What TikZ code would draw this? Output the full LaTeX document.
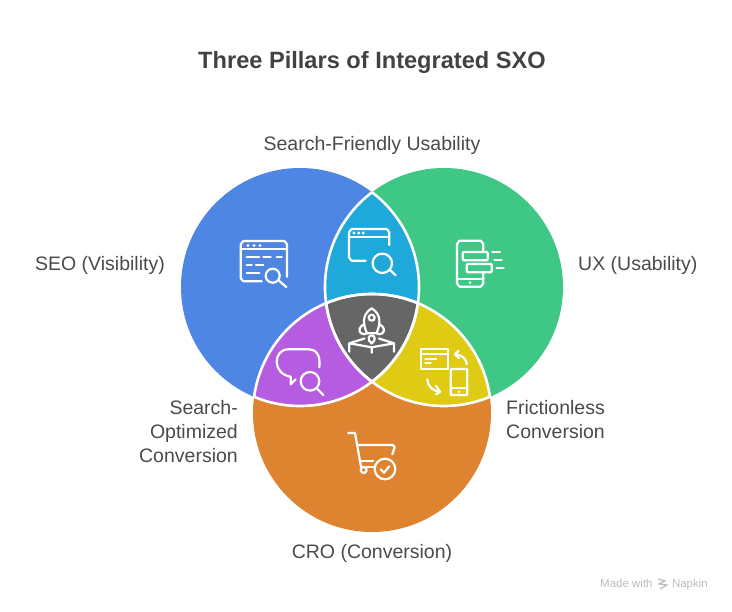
\documentclass[tikz,border=0pt]{standalone}
\usepackage{fontspec}
\setmainfont{Liberation Sans}
\definecolor{cblue}{HTML}{4E86E4}
\definecolor{cgreen}{HTML}{3EC785}
\definecolor{corange}{HTML}{DE8330}
\definecolor{ccyan}{HTML}{1FA8DA}
\definecolor{cpurple}{HTML}{B65CE0}
\definecolor{cyellow}{HTML}{DFCB14}
\definecolor{cgray}{HTML}{666666}
\definecolor{ctext}{HTML}{4A4A4A}
\definecolor{ctitle}{HTML}{424242}
\definecolor{cmark}{HTML}{BBBBBB}
\tikzset{
  label text/.style={text=ctext,font=\fontsize{19.5}{24}\selectfont,inner sep=0pt,align=center},
  icon/.style={draw=white,line width=2.2pt,line cap=round,line join=round},
  dot/.style={fill=white,draw=none},
  seam/.style={draw=white,line width=2.6pt},
}
\begin{document}
\begin{tikzpicture}[x=1pt,y=-1pt]
\useasboundingbox (0,0) rectangle (732,612);
\def\cblue{(300,287) circle[radius=119]}
\def\cgreen{(444,287) circle[radius=119]}
\def\corange{(372,413) circle[radius=119]}
% circles
\fill[cblue] \cblue;
\fill[cgreen] \cgreen;
\fill[corange] \corange;
% overlaps
\begin{scope}\clip \cblue; \fill[ccyan] \cgreen; \end{scope}
\begin{scope}\clip \cblue; \fill[cpurple] \corange; \end{scope}
\begin{scope}\clip \cgreen; \fill[cyellow] \corange; \end{scope}
\begin{scope}\clip \cblue; \clip \cgreen; \fill[cgray] \corange; \end{scope}
% seams only where circles overlap
\begin{scope}\clip \cgreen; \draw[seam] \cblue; \end{scope}
\begin{scope}\clip \corange; \draw[seam] \cblue; \end{scope}
\begin{scope}\clip \cblue; \draw[seam] \cgreen; \end{scope}
\begin{scope}\clip \corange; \draw[seam] \cgreen; \end{scope}
\begin{scope}\clip \cblue; \draw[seam] \corange; \end{scope}
\begin{scope}\clip \cgreen; \draw[seam] \corange; \end{scope}

% SEO icon
\draw[icon] (261.7,281.3) -- (243.7,281.3) to[out=180,in=90] (240.7,278.3) -- (240.7,244) to[out=-90,in=180] (243.7,241) -- (284,241) to[out=0,in=-90] (287,244) -- (287,276.7);
\draw[icon] (240.7,249.3) -- (287,249.3);
\foreach \x in {248,254,260} \fill[dot] (\x,245.5) circle[radius=1.6];
\draw[icon] (246.7,256.7) -- (259.3,256.7) (263.3,256.7) -- (270.7,256.7) (276.7,256.7) -- (281.7,256.7)
  (246.7,264.7) -- (251.7,264.7) (256,264.7) -- (263.3,264.7) (246.7,272.7) -- (259.3,272.7);
\draw[icon] (272.7,275.7) circle[radius=7];
\draw[icon] (279.3,281) -- (286.3,287);

% Search-friendly icon
\draw[icon] (365.7,260.7) -- (352,260.7) to[out=180,in=90] (349,257.7) -- (349,232) to[out=-90,in=180] (352,229) -- (386.3,229) to[out=0,in=-90] (389.3,232) -- (389.3,245);
\draw[icon] (349,237.3) -- (389.3,237.3);
\foreach \x in {354,358.7,363.3} \fill[dot] (\x,233) circle[radius=1.6];
\draw[icon] (382.3,263.3) circle[radius=9.7];
\draw[icon] (390,270) -- (395.7,275.3);

% UX icon
\draw[icon] (483.3,252) -- (483.3,243.7) to[out=-90,in=0] (480.3,240.7) -- (460,240.7) to[out=180,in=-90] (457,243.7) -- (457,283.7) to[out=90,in=180] (460,286.7) -- (480.3,286.7) to[out=0,in=90] (483.3,283.7) -- (483.3,272.3);
\draw[icon] (457,279.3) -- (483.3,279.3);
\fill[dot] (470,282.6) circle[radius=1.5];
\draw[icon,rounded corners=1pt] (462.7,252) rectangle (487.7,260.3);
\draw[icon,rounded corners=1pt] (466.7,264) rectangle (491.7,272.3);
\draw[icon] (492.3,252) -- (500,252) (494.3,260) -- (501.7,260) (496.7,268.3) -- (503.7,268.3);

% Rocket icon
\draw[icon] (371.7,308.3) .. controls (366.5,311.5) and (364,316) .. (364,321) .. controls (364,326) and (365.5,330) .. (367,333.3) -- (376.4,333.3) .. controls (377.9,330) and (379.4,326) .. (379.4,321) .. controls (379.4,316) and (376.9,311.5) .. (371.7,308.3) -- cycle;
\draw[icon] (371.7,317.7) circle[radius=3];
\draw[icon] (364.3,324) .. controls (359.5,326.5) and (358,330.5) .. (361,333.3) .. controls (363,334.5) and (365.5,334.5) .. (367,333.3);
\draw[icon] (379.1,324) .. controls (383.9,326.5) and (385.4,330.5) .. (382.4,333.3) .. controls (380.4,334.5) and (377.9,334.5) .. (376.4,333.3);
\draw[icon] (371.7,343.5) .. controls (369,342) and (368.3,339) .. (368.8,337.5) .. controls (369.3,336) and (370.5,335.5) .. (371.7,335.5) .. controls (372.9,335.5) and (374.1,336) .. (374.6,337.5) .. controls (375.1,339) and (374.4,342) .. (371.7,343.5) -- cycle;
\draw[icon] (349.3,351.7) -- (349.3,343.3) -- (364.5,338.5) (349.3,343.3) -- (371.7,347.3) -- (394,343.3) -- (378.9,338.5) (394,343.3) -- (394,351.7) (371.7,347.3) -- (371.7,352.7);

% Frictionless icon
\draw[icon] (420.7,348.7) rectangle (447.7,369.3);
\draw[icon] (420.7,354.3) -- (447.7,354.3);
\draw[icon] (425.3,358.7) -- (436,358.7) (425.3,362.7) -- (430.7,362.7);
\draw[icon,rounded corners=0.8pt] (450.7,369) rectangle (467.3,395);
\draw[icon] (450.7,388.3) -- (467.3,388.3);
\fill[dot] (459,391.7) circle[radius=1.4];
\draw[icon] (466.8,364.3) .. controls (466.5,359) and (462,354.6) .. (455,354.3);
\draw[icon] (458.5,350.7) -- (455,354.3) -- (458.9,358);
\draw[icon] (427.3,379.3) .. controls (427.5,386) and (433,391.5) .. (440,391.7);
\draw[icon] (436,385.9) -- (440,391.7) -- (436,394.3);

% Search-optimized icon
\draw[icon] (319.3,367.3) .. controls (320,361) and (320,349.3) .. (308.3,349.3) -- (288.3,349.3) .. controls (281,349.3) and (276.7,355) .. (276.7,361.7) .. controls (276.7,369) and (282,375.5) .. (290.7,376.7) -- (290.7,384.3) -- (295.7,379.3);
\draw[icon] (310,381.3) circle[radius=9.3];
\draw[icon] (316.7,388.3) -- (323.3,395);

% Cart icon
\draw[icon] (348.3,433) -- (355,433) -- (361,466.7);
\draw[icon] (357.7,445) -- (392.7,445) to[out=0,in=-80] (394.7,447) -- (392.3,454.3);
\draw[icon] (361,460.7) -- (373.3,460.7) (366.7,466.7) -- (373.3,466.7);
\draw[icon] (363.7,470) circle[radius=3];
\draw[icon] (385,469) circle[radius=10.3];
\draw[icon] (380.7,469.3) -- (384,472.7) -- (389.3,466.3);

% Texts
\node[anchor=base,inner sep=0pt,text=ctitle,font=\fontsize{23.6}{28}\selectfont\bfseries] (title) at (372,69) {Three Pillars of Integrated SXO};
\node[label text,anchor=base] (top) at (372,151) {Search-Friendly Usability};
\node[label text,anchor=base east] (seo) at (165,271) {SEO (Visibility)};
\node[label text,anchor=base west] (ux) at (578,271) {UX (Usability)};
\node[label text,anchor=base] (cro) at (372,559) {CRO (Conversion)};
\node[label text,anchor=base east] (so1) at (238,415) {Search-};
\node[label text,anchor=base east] (so2) at (238,439) {Optimized};
\node[label text,anchor=base east] (so3) at (238,463) {Conversion};
\node[label text,anchor=base west] (fc1) at (506,415) {Frictionless};
\node[label text,anchor=base west] (fc2) at (506,439) {Conversion};
% Watermark
\node[anchor=base west,inner sep=0pt,text=cmark,font=\fontsize{11.5}{14}\selectfont] (mw) at (600,588) {Made with};
\node[anchor=base east,inner sep=0pt,text=cmark,font=\fontsize{11.5}{14}\selectfont] (nap) at (708,588) {Napkin};
\draw[cmark,line width=1.2pt] (658,579) -- (665,581) -- (659,584) -- (667,585) -- (660,589);
\end{tikzpicture}
\end{document}
